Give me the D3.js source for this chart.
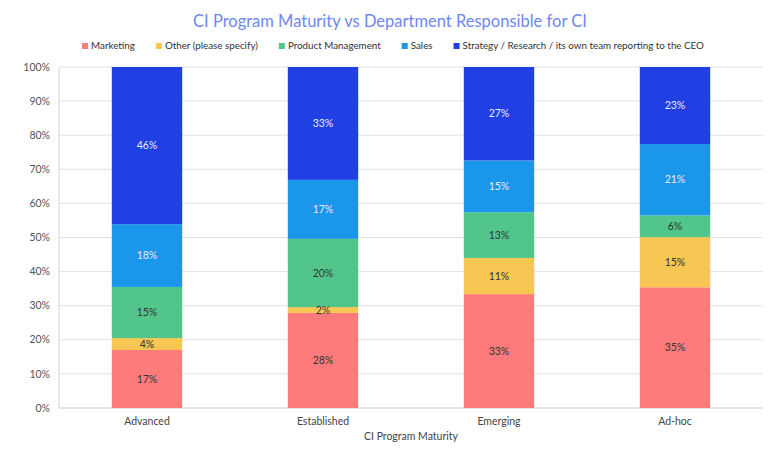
<!DOCTYPE html>
<html>
<head>
<meta charset="utf-8">
<script src="https://cdn.jsdelivr.net/npm/d3@7"></script>
<style>
  body { margin: 0; background: #fff; }
  text { font-family: Lato, "Open Sans", sans-serif; }
</style>
</head>
<body>
<div id="chart"></div>
<script>
// CI program maturity by department, stacked 100% bars

const categories = ["Advanced", "Established", "Emerging", "Ad-hoc"];
const seriesNames = ["Marketing", "Other (please specify)", "Product Management", "Sales",
  "Strategy / Research / its own team reporting to the CEO"];
const marketing = [17.0, 27.9, 33.4, 35.4];
const other = [3.5, 1.7, 10.6, 14.7];
const product = [15.0, 20.0, 13.4, 6.4];
const sales = [18.4, 17.3, 15.2, 20.9];
const strategy = [46.1, 33.1, 27.4, 22.6];
const yTicks = [0, 10, 20, 30, 40, 50, 60, 70, 80, 90, 100];

const colors = ["#FF7B7B", "#F7C653", "#52C68A", "#1A96EB", "#2140E3"];
const labelColors = ["#333", "#333", "#333", "#e8ecff", "#e8ecff"];

const seriesValues = [marketing, other, product, sales, strategy];
const rows = categories.map((c, i) => {
  const r = { cat: c };
  seriesNames.forEach((s, j) => r[s] = seriesValues[j][i]);
  return r;
});

const width = 775, height = 456;
const margin = { top: 67, right: 12, bottom: 48, left: 59 };

const svg = d3.select("#chart")
  .append("svg")
  .attr("width", width)
  .attr("height", height);

const x = d3.scaleBand()
  .domain(categories)
  .range([margin.left, width - margin.right])
  .paddingInner(0.6)
  .paddingOuter(0.3);

const y = d3.scaleLinear()
  .domain([0, 100])
  .range([height - margin.bottom, margin.top]);

// gridlines
svg.append("g")
  .selectAll("line")
  .data(yTicks)
  .join("line")
    .attr("x1", margin.left)
    .attr("x2", width - margin.right)
    .attr("y1", d => y(d))
    .attr("y2", d => y(d))
    .attr("stroke", "#e2e2e2")
    .attr("stroke-width", 1);

// y axis labels
svg.append("g")
  .selectAll("text")
  .data(yTicks)
  .join("text")
    .attr("x", margin.left - 9)
    .attr("y", d => y(d))
    .attr("dy", "0.35em")
    .attr("text-anchor", "end")
    .attr("font-size", 10.5)
    .attr("fill", "#555")
    .text(d => d + "%");

// axis lines
svg.append("line")
  .attr("x1", margin.left).attr("x2", margin.left)
  .attr("y1", y(0)).attr("y2", y(100))
  .attr("stroke", "#d4d4d4");
svg.append("line")
  .attr("x1", margin.left).attr("x2", width - margin.right)
  .attr("y1", y(0)).attr("y2", y(0))
  .attr("stroke", "#d4d4d4");

const stack = d3.stack().keys(seriesNames);
const layers = stack(rows);

const groups = svg.append("g")
  .selectAll("g")
  .data(layers)
  .join("g")
    .attr("fill", (d, i) => colors[i]);

groups.selectAll("rect")
  .data(d => d)
  .join("rect")
    .attr("x", d => x(d.data.cat))
    .attr("width", x.bandwidth())
    .attr("y", d => y(d[1]))
    .attr("height", d => y(d[0]) - y(d[1]));

// value labels
svg.append("g")
  .selectAll("g")
  .data(layers)
  .join("g")
    .attr("fill", (d, i) => labelColors[i])
  .selectAll("text")
  .data(d => d)
  .join("text")
    .attr("x", d => x(d.data.cat) + x.bandwidth() / 2)
    .attr("y", d => y((d[0] + d[1]) / 2))
    .attr("dy", "0.35em")
    .attr("text-anchor", "middle")
    .attr("font-size", 10.5)
    .text(d => Math.round(d[1] - d[0]) + "%");

// x labels
svg.append("g")
  .selectAll("text")
  .data(categories)
  .join("text")
    .attr("x", d => x(d) + x.bandwidth() / 2)
    .attr("y", y(0) + 17)
    .attr("text-anchor", "middle")
    .attr("font-size", 10.5)
    .attr("fill", "#444")
    .text(d => d);

svg.append("text")
  .attr("x", x("Established") + x.bandwidth() / 2 + 88)
  .attr("y", y(0) + 32)
  .attr("text-anchor", "middle")
  .attr("font-size", 10.5)
  .attr("fill", "#444")
  .text("CI Program Maturity");

// title
svg.append("text")
  .attr("x", 390)
  .attr("y", 27)
  .attr("text-anchor", "middle")
  .attr("font-size", 16.5)
  .attr("fill", "#6f87f0")
  .text("CI Program Maturity vs Department Responsible for CI");

// legend, laid out from measured text widths
const legend = svg.append("g");
const items = legend.selectAll("g")
  .data(seriesNames)
  .join("g");
items.append("rect")
  .attr("width", 6).attr("height", 6)
  .attr("y", -6)
  .attr("fill", (d, i) => colors[i]);
items.append("text")
  .attr("x", 9)
  .attr("font-size", 9.8)
  .attr("fill", "#333")
  .text(d => d);
let pos = 0;
items.each(function() {
  const g = d3.select(this);
  g.attr("transform", `translate(${pos},0)`);
  pos += 9 + g.select("text").node().getComputedTextLength() + 21;
});
const legendW = pos - 21;
legend.attr("transform", `translate(${393 - legendW / 2},49)`);
</script>
</body>
</html>
